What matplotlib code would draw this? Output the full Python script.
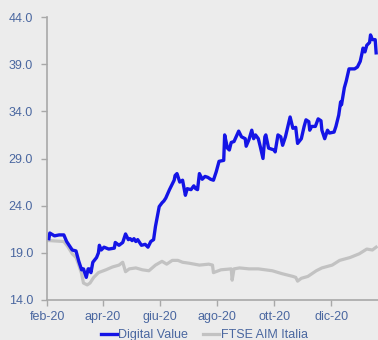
import matplotlib
matplotlib.use("Agg")
import matplotlib.pyplot as plt
import matplotlib.dates as mdates
import pandas as pd

plt.rcParams['font.family'] = ['Liberation Sans', 'DejaVu Sans']

# Digital Value
dv_dates = ["2020-02-03", "2020-02-04", "2020-02-09", "2020-02-14", "2020-02-19", "2020-02-22",
            "2020-02-28", "2020-03-03", "2020-03-06", "2020-03-09", "2020-03-11", "2020-03-14",
            "2020-03-16", "2020-03-17", "2020-03-19", "2020-03-21", "2020-03-25", "2020-03-27",
            "2020-03-28", "2020-03-30", "2020-04-02", "2020-04-07", "2020-04-13", "2020-04-14",
            "2020-04-18", "2020-04-22", "2020-04-25", "2020-04-28", "2020-04-30", "2020-05-02",
            "2020-05-04", "2020-05-06", "2020-05-08", "2020-05-12", "2020-05-16", "2020-05-19",
            "2020-05-22", "2020-05-25", "2020-05-27", "2020-05-31", "2020-06-03", "2020-06-05",
            "2020-06-07", "2020-06-11", "2020-06-16", "2020-06-17", "2020-06-19", "2020-06-22",
            "2020-06-25", "2020-06-28", "2020-06-30", "2020-07-04", "2020-07-07", "2020-07-09",
            "2020-07-11", "2020-07-13", "2020-07-16", "2020-07-19", "2020-07-22", "2020-07-25",
            "2020-07-28", "2020-07-31", "2020-08-03", "2020-08-08", "2020-08-09", "2020-08-12",
            "2020-08-14", "2020-08-16", "2020-08-19", "2020-08-24", "2020-08-27", "2020-08-31",
            "2020-09-01", "2020-09-04", "2020-09-07", "2020-09-09", "2020-09-11", "2020-09-14",
            "2020-09-16", "2020-09-19", "2020-09-21", "2020-09-22", "2020-09-25", "2020-10-01",
            "2020-10-02", "2020-10-05", "2020-10-08", "2020-10-10", "2020-10-13", "2020-10-18",
            "2020-10-21", "2020-10-24", "2020-10-26", "2020-10-30", "2020-11-02", "2020-11-04",
            "2020-11-07", "2020-11-08", "2020-11-10", "2020-11-14", "2020-11-17", "2020-11-20",
            "2020-11-21", "2020-11-24", "2020-11-27", "2020-11-29", "2020-12-04", "2020-12-06",
            "2020-12-09", "2020-12-11", "2020-12-12", "2020-12-15", "2020-12-17", "2020-12-20",
            "2020-12-26", "2020-12-29", "2021-01-01", "2021-01-03", "2021-01-04", "2021-01-06",
            "2021-01-08", "2021-01-11", "2021-01-12", "2021-01-14", "2021-01-17", "2021-01-18"]
dv_values = [20.5, 21.1, 20.8, 20.9, 20.9, 20.2,
             19.3, 19.2, 18.1, 17.2, 17.3, 16.4,
             17.3, 17.3, 16.9, 18.0, 18.5, 19.0,
             19.8, 19.3, 19.6, 19.4, 19.5, 20.1,
             19.8, 20.1, 21.0, 20.4, 20.5, 20.3,
             20.5, 20.2, 20.4, 19.8, 19.9, 19.6,
             20.2, 20.4, 21.8, 23.9, 24.3, 24.5,
             24.8, 25.7, 26.7, 27.2, 27.4, 26.5,
             26.7, 25.1, 25.8, 25.7, 26.1, 25.8,
             25.7, 27.4, 26.8, 27.1, 27.0, 26.8,
             26.7, 27.6, 28.7, 28.8, 31.5, 30.1,
             29.9, 30.7, 30.8, 31.9, 31.3, 31.1,
             30.3, 31.0, 32.0, 31.1, 31.5, 31.1,
             30.3, 29.0, 31.3, 31.5, 30.1, 29.9,
             29.7, 31.5, 31.3, 30.4, 31.3, 33.4,
             32.2, 32.3, 30.6, 31.1, 32.4, 33.1,
             32.9, 32.0, 32.4, 32.4, 33.2, 33.0,
             32.0, 31.1, 32.0, 31.7, 31.8, 32.4,
             33.6, 35.0, 34.7, 36.5, 37.2, 38.5,
             38.5, 38.7, 39.3, 40.2, 40.7, 40.3,
             41.0, 41.3, 42.1, 41.6, 41.6, 40.2]

# FTSE AIM Italia (rebased)
aim_dates = ["2020-02-03", "2020-02-19", "2020-02-23", "2020-02-28", "2020-03-03", "2020-03-06",
             "2020-03-09", "2020-03-11", "2020-03-15", "2020-03-18", "2020-03-22", "2020-03-27",
             "2020-04-04", "2020-04-11", "2020-04-18", "2020-04-22", "2020-04-25", "2020-04-29",
             "2020-05-06", "2020-05-13", "2020-05-20", "2020-05-27", "2020-06-03", "2020-06-08",
             "2020-06-14", "2020-06-20", "2020-06-25", "2020-07-02", "2020-07-13", "2020-07-23",
             "2020-07-27", "2020-07-28", "2020-08-05", "2020-08-16", "2020-08-17", "2020-08-19",
             "2020-08-25", "2020-09-04", "2020-09-14", "2020-09-29", "2020-10-09", "2020-10-21",
             "2020-10-24", "2020-10-26", "2020-10-30", "2020-11-06", "2020-11-15", "2020-11-21",
             "2020-12-02", "2020-12-10", "2020-12-21", "2020-12-31", "2021-01-08", "2021-01-14",
             "2021-01-18"]
aim_values = [20.3, 20.2, 19.7, 18.9, 18.5, 17.7,
              16.8, 15.8, 15.6, 15.8, 16.4, 16.9,
              17.2, 17.5, 17.7, 18.0, 17.0, 17.3,
              17.4, 17.2, 17.1, 17.7, 18.1, 17.8,
              18.2, 18.2, 18.0, 17.9, 17.7, 17.8,
              17.7, 16.9, 17.2, 17.3, 16.1, 17.3,
              17.4, 17.3, 17.3, 17.1, 16.8, 16.5,
              16.4, 16.0, 16.3, 16.5, 17.1, 17.4,
              17.7, 18.2, 18.5, 18.9, 19.4, 19.3,
              19.6]

tick_dates = ["2020-02-01", "2020-04-01", "2020-06-01", "2020-08-01", "2020-10-01", "2020-12-01"]
tick_labels = ["feb-20", "apr-20", "giu-20", "ago-20", "ott-20", "dic-20"]
y_ticks = [14, 19, 24, 29, 34, 39, 44]

bg = '#ececec'
txt = '#4a67a0'

fig = plt.figure(figsize=(3.78, 3.40), dpi=100, facecolor=bg)
ax = fig.add_axes([47 / 378, 40 / 340, 331 / 378, 283 / 340])
ax.set_facecolor(bg)

ax.plot(pd.to_datetime(aim_dates), aim_values, color='#c2c2c2', lw=2.3, label='FTSE AIM Italia')
ax.plot(pd.to_datetime(dv_dates), dv_values, color='#1414e6', lw=2.4, label='Digital Value')

ax.set_xlim(pd.Timestamp("2020-02-01"), pd.Timestamp("2021-01-20"))
ax.set_ylim(14, 44)
ax.set_yticks(y_ticks)
ax.set_yticklabels([f"{v:.1f}" for v in y_ticks])
ax.set_xticks(mdates.date2num(pd.to_datetime(tick_dates)))
ax.set_xticklabels(tick_labels)

for s in ['top', 'right']:
    ax.spines[s].set_visible(False)
for s in ['left', 'bottom']:
    ax.spines[s].set_color('#a8a8a8')
    ax.spines[s].set_linewidth(1.2)
ax.tick_params(colors='#a8a8a8', labelcolor=txt, labelsize=9, length=4, width=1)
ax.tick_params(axis='y', pad=6)
ax.tick_params(axis='x', pad=4)

handles, labels = ax.get_legend_handles_labels()
leg = fig.legend(handles[::-1], labels[::-1], loc='center', bbox_to_anchor=(0.54, 0.015),
                 ncol=2, frameon=False, fontsize=9, handlelength=1.3, handletextpad=0.1,
                 columnspacing=1.2)
for t in leg.get_texts():
    t.set_color(txt)

fig.savefig('out.png', dpi=100, facecolor=bg)
